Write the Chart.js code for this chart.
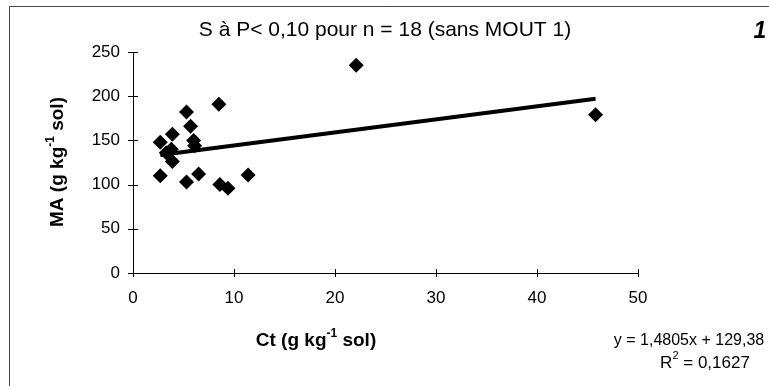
<!DOCTYPE html>
<html>
<head>
<meta charset="utf-8">
<script src="https://cdn.jsdelivr.net/npm/chart.js@4"></script>
<style>
  html, body { margin: 0; padding: 0; background: #fff; }
  #wrap { width: 769px; height: 386px; }
</style>
</head>
<body>
<div id="wrap"><canvas id="chart" width="769" height="386"></canvas></div>
<script>
// ---- Data ----
const ctValues = [2.7, 3.9, 5.3, 8.5, 5.7, 6.0, 6.1, 3.8, 3.3, 3.9, 2.7, 5.3, 6.5, 8.6, 9.4, 11.4, 22.1, 45.8];
const maValues = [148, 157, 182, 191, 166, 150, 144, 140, 136, 126, 110, 103, 112, 100, 96, 111, 235, 179];
const xTicks = [0, 10, 20, 30, 40, 50];
const yTicks = [0, 50, 100, 150, 200, 250];
const slope = 1.4805;
const intercept = 129.38;

const points = ctValues.map((x, i) => ({ x, y: maValues[i] }));
const xMin = Math.min(...ctValues);
const xMax = Math.max(...ctValues);
const trend = [xMin, xMax].map((x) => ({ x, y: slope * x + intercept }));

const FONT = "'Liberation Sans', Arial, sans-serif";

// draws "base" + superscript + "rest", centered at (cx, cy)
function drawSupText(ctx, cx, cy, parts, size, bold) {
  const w = bold ? "bold " : "";
  const big = `${w}${size}px ${FONT}`;
  const small = `${w}${Math.round(size * 0.65)}px ${FONT}`;
  let total = 0;
  parts.forEach((p) => {
    ctx.font = p.sup ? small : big;
    total += ctx.measureText(p.t).width;
  });
  let x = cx - total / 2;
  ctx.textBaseline = "middle";
  ctx.textAlign = "left";
  parts.forEach((p) => {
    ctx.font = p.sup ? small : big;
    ctx.fillText(p.t, x, p.sup ? cy - size * 0.4 : cy);
    x += ctx.measureText(p.t).width;
  });
}

const decorPlugin = {
  id: "decor",
  afterDraw(chart) {
    const { ctx, chartArea } = chart;
    const xs = chart.scales.x;
    const ys = chart.scales.y;
    ctx.save();
    ctx.fillStyle = "#000";
    ctx.strokeStyle = "#000";
    ctx.lineWidth = 1;

    // crossing tick marks
    ctx.beginPath();
    yTicks.forEach((v) => {
      const py = Math.round(ys.getPixelForValue(v)) + 0.5;
      ctx.moveTo(chartArea.left - 5, py);
      ctx.lineTo(chartArea.left + 5, py);
    });
    xTicks.forEach((v) => {
      const px = Math.round(xs.getPixelForValue(v)) + 0.5;
      ctx.moveTo(px, chartArea.bottom - 4);
      ctx.lineTo(px, chartArea.bottom + 4);
    });
    ctx.stroke();

    // frame (left and top only)
    ctx.strokeStyle = "#444";
    ctx.beginPath();
    ctx.moveTo(9.5, 386);
    ctx.lineTo(9.5, 6.5);
    ctx.lineTo(769, 6.5);
    ctx.stroke();

    // title
    ctx.font = `21px ${FONT}`;
    ctx.textAlign = "center";
    ctx.textBaseline = "middle";
    ctx.fillText("S à P< 0,10 pour n = 18 (sans MOUT 1)", 385, 30);

    ctx.font = `italic bold 23px ${FONT}`;
    ctx.fillText("1", 760, 32);

    // axis titles
    drawSupText(ctx, 316, 341, [{ t: "Ct (g kg" }, { t: "-1", sup: true }, { t: " sol)" }], 19, true);
    ctx.save();
    ctx.translate(58, 162);
    ctx.rotate(-Math.PI / 2);
    drawSupText(ctx, 0, 0, [{ t: "MA (g kg" }, { t: "-1", sup: true }, { t: " sol)" }], 19, true);
    ctx.restore();

    // regression text
    ctx.font = `16px ${FONT}`;
    ctx.textAlign = "center";
    ctx.textBaseline = "middle";
    ctx.fillText("y = 1,4805x + 129,38", 689, 341);
    drawSupText(ctx, 705, 363, [{ t: "R" }, { t: "2", sup: true }, { t: " = 0,1627" }], 17, false);
    ctx.restore();
  },
};

new Chart(document.getElementById("chart"), {
  type: "scatter",
  data: {
    datasets: [
      {
        label: "MA",
        data: points,
        pointStyle: "rectRot",
        pointRadius: 7.5,
        backgroundColor: "#000",
        borderColor: "#000",
        borderWidth: 0,
        order: 2,
      },
      {
        label: "trend",
        type: "line",
        data: trend,
        borderColor: "#000",
        borderWidth: 4,
        pointRadius: 0,
        fill: false,
        order: 1,
      },
    ],
  },
  options: {
    responsive: false,
    animation: false,
    devicePixelRatio: 1,
    layout: { padding: { top: 52, right: 131, left: 0, bottom: 0 } },
    plugins: { legend: { display: false }, tooltip: { enabled: false } },
    scales: {
      x: {
        type: "linear",
        min: 0,
        max: 50,
        afterFit: (s) => { s.height = 113; },
        afterBuildTicks: (s) => { s.ticks = xTicks.map((v) => ({ value: v })); },
        grid: { display: false, drawTicks: false },
        border: { display: true, color: "#000", width: 1 },
        ticks: { color: "#000", font: { family: FONT, size: 17 }, padding: 15 },
      },
      y: {
        type: "linear",
        min: 0,
        max: 250,
        afterFit: (s) => { s.width = 133; },
        afterBuildTicks: (s) => { s.ticks = yTicks.map((v) => ({ value: v })); },
        grid: { display: false, drawTicks: false },
        border: { display: true, color: "#000", width: 1 },
        ticks: { color: "#000", font: { family: FONT, size: 17 }, padding: 13 },
      },
    },
  },
  plugins: [decorPlugin],
});
</script>
</body>
</html>
